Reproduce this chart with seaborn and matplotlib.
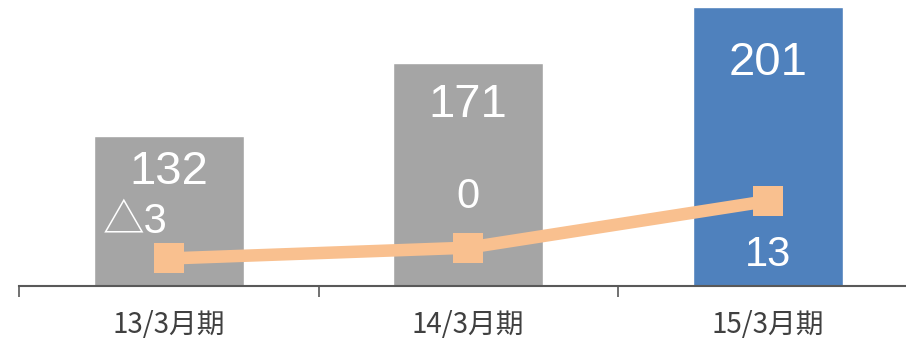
import matplotlib
matplotlib.use("Agg")
import matplotlib.pyplot as plt
import seaborn as sns

periods = ["13/3月期", "14/3月期", "15/3月期"]
sales = [132, 171, 201]
profit = [-3, 0, 13]
profit_labels = ["△3", "0", "13"]
bar_colors = ["#A5A5A5", "#A5A5A5", "#4F81BD"]

sns.set_theme(style="white")
plt.rcParams["font.family"] = ["Liberation Sans", "Noto Sans CJK JP", "DejaVu Sans"]

fig = plt.figure(figsize=(9.06, 3.41), dpi=100)
ax = fig.add_axes([19 / 906, 55 / 341, 898.5 / 906, 286 / 341])

sns.barplot(x=periods, y=sales, hue=periods, palette=bar_colors, width=0.5,
            legend=False, saturation=1, ax=ax)
ax.set_xlim(-0.5, 2.5)
ax.set_ylim(51.6, 204.8)

# value labels inside the bars
bar_label_offsets = [-19.6, -22.5, -30.2]
for i, (v, off) in enumerate(zip(sales, bar_label_offsets)):
    ax.text(i, v + off, f"{v}", ha="center", va="center", color="white",
            fontsize=34, family=["Liberation Sans", "DejaVu Sans"])

for s in ["top", "right", "left"]:
    ax.spines[s].set_visible(False)
ax.spines["bottom"].set_color("#595959")
ax.spines["bottom"].set_linewidth(1.5)
ax.set_yticks([])
ax.set_ylabel("")
ax.set_xlabel("")

# category labels at centers, tick marks at boundaries
ax.set_xticks([0, 1, 2])
ax.set_xticklabels(periods, family=["Noto Sans CJK JP", "DejaVu Sans"],
                   fontsize=20, color="#404040")
ax.tick_params(axis="x", which="major", length=0, pad=17.5)
ax.set_xticks([-0.5, 0.5, 1.5, 2.5], minor=True)
ax.tick_params(axis="x", which="minor", length=8, width=1.2,
               color="#595959", bottom=True)

# operating profit line on secondary axis
ax2 = ax.twinx()
ax2.set_ylim(-10.67, 69.0)
sns.lineplot(x=[0, 1, 2], y=profit, color="#F9C08F", linewidth=9,
             marker="s", markersize=22, markeredgewidth=0, ax=ax2)
ax2.set_yticks([])
ax2.set_ylabel("")
for s in ax2.spines.values():
    s.set_visible(False)

profit_label_offsets = [(-0.112, 10.2), (0, 14.1), (0, -15.0)]
for i, (v, lab) in enumerate(zip(profit, profit_labels)):
    dx, dy = profit_label_offsets[i]
    ax2.text(i + dx, v + dy, lab, ha="center", va="center", color="white",
             fontsize=30, family=["Liberation Sans", "Noto Sans CJK JP", "DejaVu Sans"])

fig.savefig("out.png", dpi=100)
